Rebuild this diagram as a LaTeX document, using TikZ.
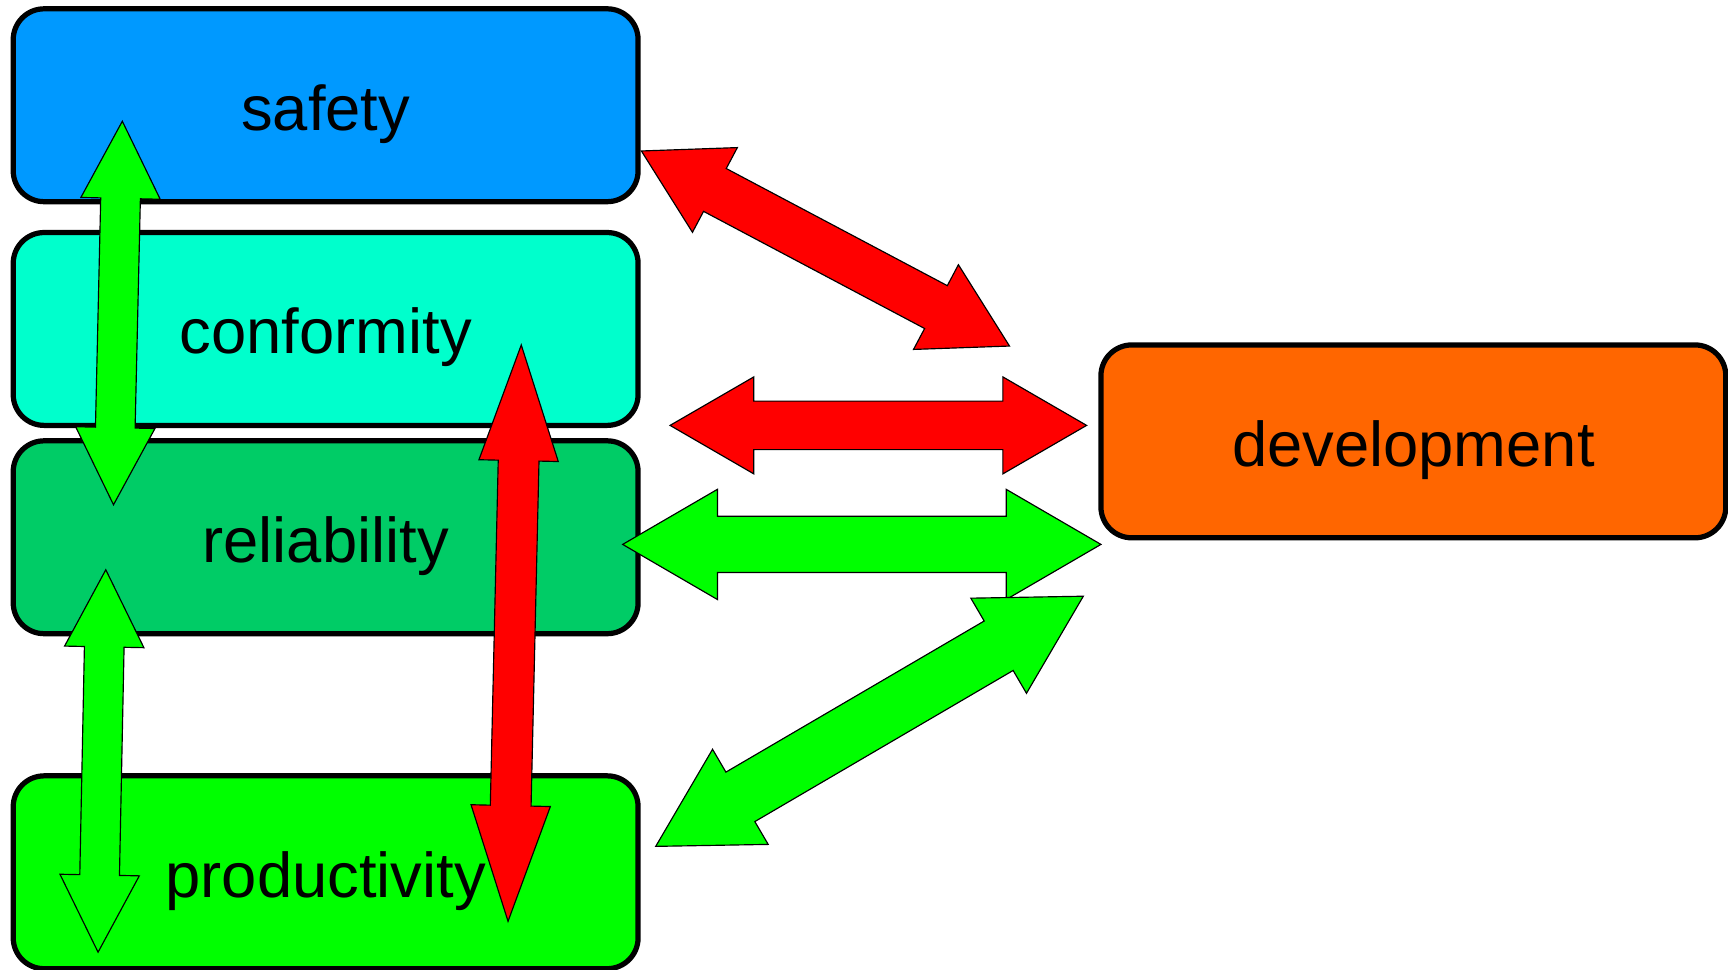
\documentclass[tikz,border=0pt]{standalone}
\usepackage{fontspec}
\setmainfont{Liberation Sans}
\usepackage{tikz}
\usetikzlibrary{calc}
\definecolor{safec}{RGB}{0,153,255}
\definecolor{confc}{RGB}{0,255,204}
\definecolor{relc}{RGB}{0,204,102}
\definecolor{prodc}{RGB}{0,255,0}
\definecolor{devc}{RGB}{255,102,0}
\definecolor{arrred}{RGB}{255,0,0}
\definecolor{arrgrn}{RGB}{0,255,0}
\tikzset{
  blk/.style={rectangle,rounded corners=5.6mm,draw=black,line width=2.7pt,minimum width=113.4mm,minimum height=35mm,inner sep=0pt},
  lbl/.style={anchor=base,inner sep=0pt,font=\fontsize{32.7}{39}\selectfont},
  redarr/.style={fill=arrred,draw=black,line width=0.6pt},
  grnarr/.style={fill=arrgrn,draw=black,line width=0.6pt},
}
% two-headed block arrow: style, from, to, half shaft, half head, head length
\newcommand{\dblarrow}[6]{%
  \coordinate (h1) at ($(#2)!#6!(#3)$);
  \coordinate (h2) at ($(#3)!#6!(#2)$);
  \draw[#1] (#2) -- ($(h1)!#5!90:(#3)$) -- ($(h1)!#4!90:(#3)$)
    -- ($(h2)!#4!-90:(#2)$) -- ($(h2)!#5!-90:(#2)$) -- (#3)
    -- ($(h2)!#5!90:(#2)$) -- ($(h2)!#4!90:(#2)$)
    -- ($(h1)!#4!-90:(#3)$) -- ($(h1)!#5!-90:(#3)$) -- cycle;}
\begin{document}
\begin{tikzpicture}[x=0.2mm,y=-0.2mm]
  \useasboundingbox (0,0) rectangle (1568,880);
  \node[blk,fill=safec](safety) at (295.5,95.5){};
  \node[blk,fill=confc](conformity) at (295.5,298.5){};
  \node[blk,fill=relc](reliability) at (295.5,487.5){};
  \node[blk,fill=prodc](productivity) at (295.5,791.5){};
  \node[blk,fill=devc](development) at (1282.5,400.5){};
  % arrow ends
  \coordinate (sd1) at (582,137); \coordinate (sd2) at (916,314);
  \coordinate (cd1) at (608,386); \coordinate (cd2) at (986,386);
  \coordinate (rd1) at (565,494); \coordinate (rd2) at (999,494);
  \coordinate (pd1) at (595,768); \coordinate (pd2) at (983,541);
  \coordinate (sr1) at (111,110); \coordinate (sr2) at (103,458);
  \coordinate (rp1) at (96,517);  \coordinate (rp2) at (89,864);
  \coordinate (cp1) at (473,313); \coordinate (cp2) at (461,836);
  % to and from development
  \dblarrow{redarr}{sd1}{sd2}{4.4mm}{8.7mm}{15.1mm}
  \dblarrow{redarr}{cd1}{cd2}{4.4mm}{8.8mm}{15.2mm}
  \dblarrow{grnarr}{rd1}{rd2}{5.1mm}{10mm}{17.2mm}
  \dblarrow{grnarr}{pd1}{pd2}{5.2mm}{10mm}{17.8mm}
  % between the layers
  \dblarrow{grnarr}{sr1}{sr2}{3.6mm}{7.2mm}{14mm}
  \dblarrow{grnarr}{rp1}{rp2}{3.6mm}{7.2mm}{14mm}
  \dblarrow{redarr}{cp1}{cp2}{3.7mm}{7.2mm}{21mm}
  % labels
  \node[lbl](tsafety) at ([yshift=-4.5mm]safety.center){safety};
  \node[lbl](tconformity) at ([yshift=-4.5mm]conformity.center){conformity};
  \node[lbl](treliability) at ([yshift=-4.5mm]reliability.center){reliability};
  \node[lbl](tproductivity) at ([yshift=-4.6mm]productivity.center){productivity};
  \node[lbl](tdevelopment) at ([yshift=-4.5mm]development.center){development};
\end{tikzpicture}
\end{document}
